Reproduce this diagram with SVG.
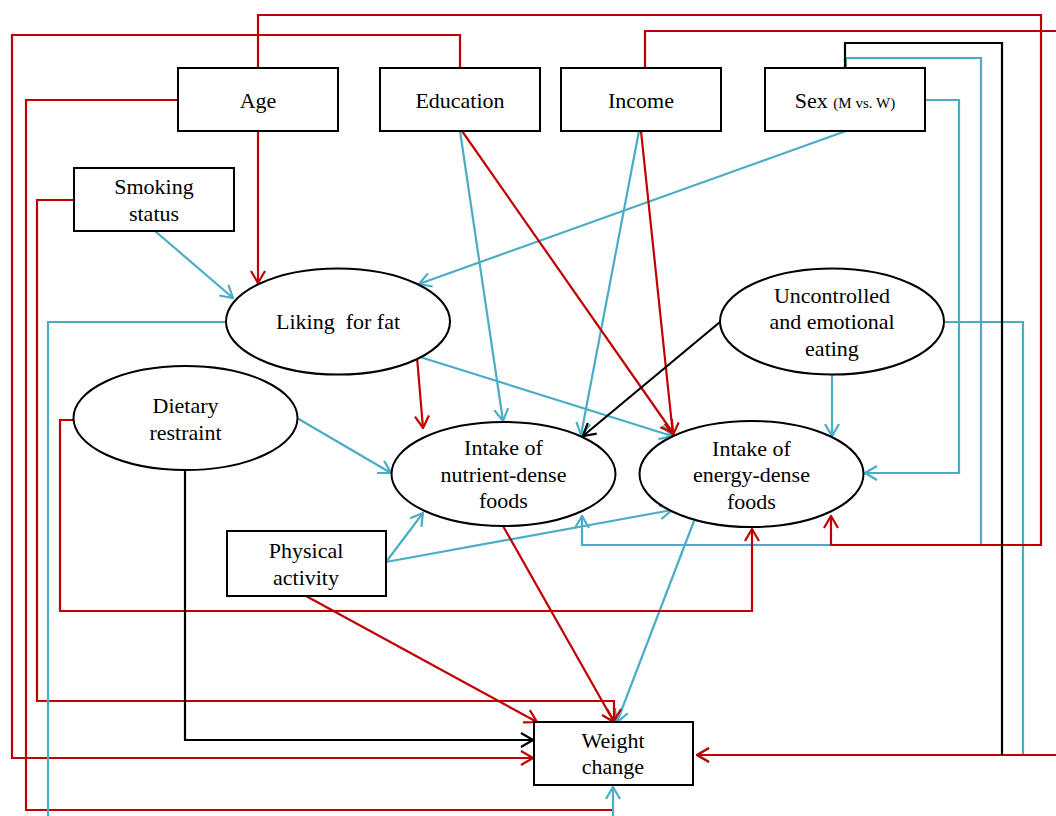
<svg xmlns="http://www.w3.org/2000/svg" width="1056" height="816" viewBox="0 0 1056 816">
<style>
.box{fill:#fff;stroke:#000;stroke-width:2}
.t{font-family:"Liberation Serif","Times New Roman",serif;font-size:22px;fill:#000;text-anchor:middle}
.s{font-size:15px}
.c{fill:none;stroke-width:2.2;stroke-linejoin:miter}
.r{stroke:#C00000}
.b{stroke:#4BACC6}
.k{stroke:#000}
</style>
<defs>
<marker id="ar" viewBox="0 0 14 16" refX="13" refY="8" markerWidth="14" markerHeight="16" markerUnits="userSpaceOnUse" orient="auto"><path d="M1,1 L13,8 L1,15" fill="none" stroke="#C00000" stroke-width="2.2"/></marker>
<marker id="ab" viewBox="0 0 14 16" refX="13" refY="8" markerWidth="14" markerHeight="16" markerUnits="userSpaceOnUse" orient="auto"><path d="M1,1 L13,8 L1,15" fill="none" stroke="#4BACC6" stroke-width="2.2"/></marker>
<marker id="ak" viewBox="0 0 14 16" refX="13" refY="8" markerWidth="14" markerHeight="16" markerUnits="userSpaceOnUse" orient="auto"><path d="M1,1 L13,8 L1,15" fill="none" stroke="#000" stroke-width="2.2"/></marker>
</defs>
<rect width="1056" height="816" fill="#fff"/>
<g id="connectors">
<g class="c b">
<path d="M155,231 L233,298" marker-end="url(#ab)"/>
<path d="M846,131 L419,284" marker-end="url(#ab)"/>
<path d="M460,131 L503,421" marker-end="url(#ab)"/>
<path d="M639,131 L581,435" marker-end="url(#ab)"/>
<path d="M420,357 L672,436" marker-end="url(#ab)"/>
<path d="M297,418 L391,473" marker-end="url(#ab)"/>
<path d="M386,562 L423,513" marker-end="url(#ab)"/>
<path d="M386,562 L672,510" marker-end="url(#ab)"/>
<path d="M832,375 V436" marker-end="url(#ab)"/>
<path d="M925,100 H959 V473 H865" marker-end="url(#ab)"/>
<path d="M846,68 V58 H981 V545 H582 V516" marker-end="url(#ab)"/>
<path d="M944,322 H1023 V755 H697" marker-end="url(#ab)"/>
<path d="M694,521 L617,722" marker-end="url(#ab)"/>
</g>
<g class="c r">
<path d="M258,131 V283" marker-end="url(#ar)"/>
<path d="M258,68 V15 H1041 V545 H831 V516" marker-end="url(#ar)"/>
<path d="M460,68 V35 H12 V758 H533" marker-end="url(#ar)"/>
<path d="M178,100 H26 V810 H613"/>
<path d="M74,200 H37 V701 H614 V721" marker-end="url(#ar)"/>
<path d="M74,420 H60 V611 H752 V529" marker-end="url(#ar)"/>
<path d="M306,596 L537,722" marker-end="url(#ar)"/>
<path d="M462,131 L673,433" marker-end="url(#ar)"/>
<path d="M641,131 L673,435" marker-end="url(#ar)"/>
<path d="M417,357 L423,428" marker-end="url(#ar)"/>
<path d="M503,526 L614,722" marker-end="url(#ar)"/>
<path d="M645,68 V31 H1070 V755 H697" marker-end="url(#ar)"/>
</g>
<g class="c b">
<path d="M226,322 H48 V830 H613 V787" marker-end="url(#ab)"/>
</g>
<g class="c k">
<path d="M185,470 V740 H533" marker-end="url(#ak)"/>
<path d="M720,322 L583,436" marker-end="url(#ak)"/>
<path d="M845,68 V43 H1002 V755"/>
</g>
</g>
<g id="age"><rect class="box" x="178" y="68" width="160" height="63"/><text class="t" x="258" y="108">Age</text></g>
<g id="education"><rect class="box" x="380" y="68" width="160" height="63"/><text class="t" x="460" y="108">Education</text></g>
<g id="income"><rect class="box" x="561" y="68" width="160" height="63"/><text class="t" x="641" y="108">Income</text></g>
<g id="sex"><rect class="box" x="765" y="68" width="160" height="63"/><text class="t" x="845" y="108">Sex <tspan class="s">(M vs. W)</tspan></text></g>
<g id="smoking"><rect class="box" x="74" y="168" width="160" height="63"/><text class="t" x="154" y="194">Smoking</text><text class="t" x="154" y="221">status</text></g>
<g id="liking"><ellipse class="box" cx="338" cy="321.5" rx="112" ry="53"/><text class="t" x="338" y="329" style="white-space:pre">Liking  for fat</text></g>
<g id="dietary"><ellipse class="box" cx="185.5" cy="418" rx="112" ry="52"/><text class="t" x="185.5" y="413">Dietary</text><text class="t" x="185.5" y="440">restraint</text></g>
<g id="uncontrolled"><ellipse class="box" cx="832" cy="321.5" rx="112" ry="53"/><text class="t" x="832" y="303">Uncontrolled</text><text class="t" x="832" y="329">and emotional</text><text class="t" x="832" y="356">eating</text></g>
<g id="nutrient"><ellipse class="box" cx="503.5" cy="474" rx="112" ry="52"/><text class="t" x="503.5" y="455">Intake of</text><text class="t" x="503.5" y="482">nutrient-dense</text><text class="t" x="503.5" y="508">foods</text></g>
<g id="energy"><ellipse class="box" cx="751.5" cy="474" rx="112" ry="53"/><text class="t" x="751.5" y="456">Intake of</text><text class="t" x="751.5" y="482">energy-dense</text><text class="t" x="751.5" y="509">foods</text></g>
<g id="physical"><rect class="box" x="227" y="531" width="159" height="65"/><text class="t" x="306" y="558">Physical</text><text class="t" x="306" y="585">activity</text></g>
<g id="weight"><rect class="box" x="534" y="722" width="159" height="63"/><text class="t" x="613" y="748">Weight</text><text class="t" x="613" y="774">change</text></g>
</svg>
